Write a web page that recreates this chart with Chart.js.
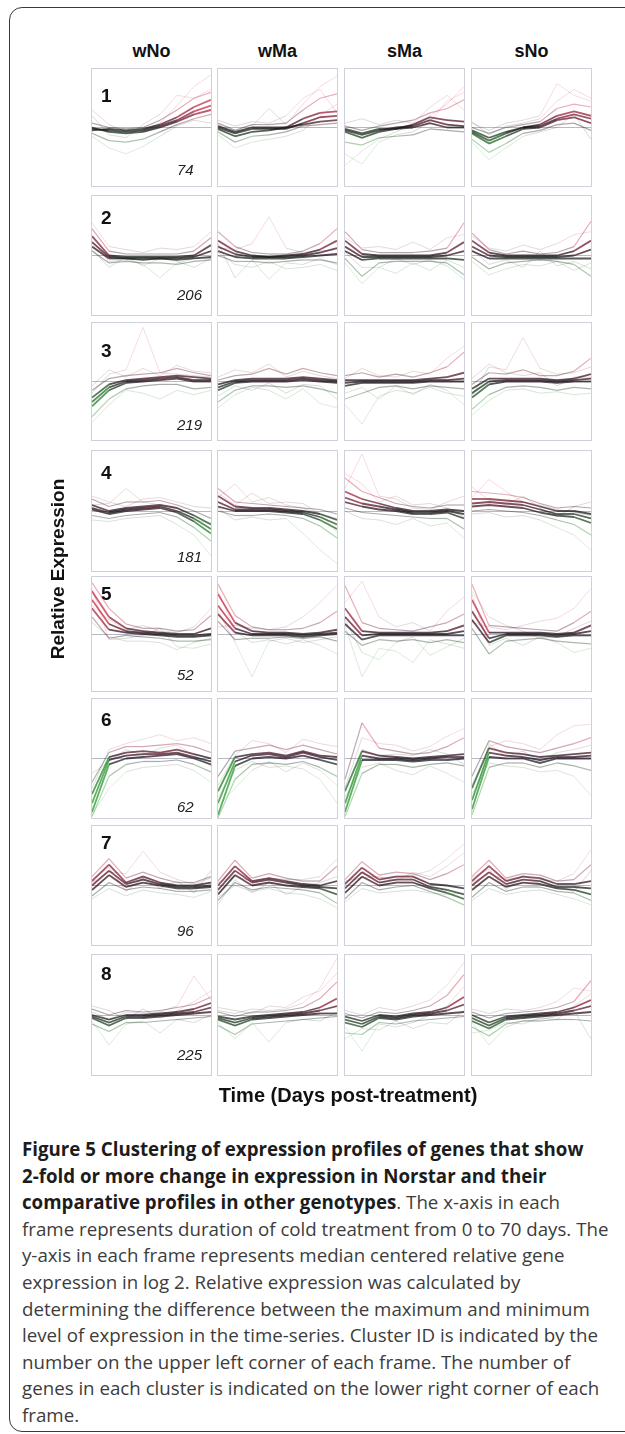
<!DOCTYPE html>
<html><head><meta charset="utf-8">
<script src="https://cdn.jsdelivr.net/npm/chart.js@4.4.1/dist/chart.umd.min.js"></script>
<style>
html,body{margin:0;padding:0;background:#fff;}
body{width:625px;height:1434px;position:relative;overflow:hidden;font-family:"Liberation Sans",Arial,sans-serif;}
.frame{position:absolute;left:9px;top:7px;width:720px;height:1425px;border:1.5px solid #3a3a3a;border-radius:13px;box-sizing:border-box;}
.panel{position:absolute;border:1px solid #d0d0dc;box-sizing:border-box;background:#fff;}
.panel canvas{position:absolute;left:0;top:0;}
.hdr{position:absolute;font-weight:bold;font-size:18px;line-height:18px;color:#111;white-space:nowrap;transform:translateX(-50%);}
.cid{position:absolute;font-weight:bold;font-size:19px;line-height:19px;color:#111;}
.cnt{position:absolute;font-style:italic;font-size:15px;line-height:15px;color:#222;}
.ylab{position:absolute;font-weight:bold;font-size:19px;line-height:19px;color:#111;white-space:nowrap;transform:translate(-50%,-50%) rotate(-90deg);}
.xlab{position:absolute;font-weight:bold;font-size:20px;line-height:20px;color:#111;white-space:nowrap;transform:translateX(-50%);}
.cap{position:absolute;left:22px;font-family:"Open Sans","Noto Sans",sans-serif;font-size:16px;color:#3c3c3c;white-space:nowrap;}
.cap b{color:#1c1c1c;font-weight:bold;}
.cap div{height:26.6px;line-height:26.6px;}
</style></head>
<body>
<div class="frame"></div>
<div id="root"></div>
<script>
// ---- data ----
const days = ['0','2','14','21','35','42','56','70'];
const genotypes = ['wNo','wMa','sMa','sNo'];
const clusterIds = ['1','2','3','4','5','6','7','8'];
const geneCounts = ['74','206','219','181','52','62','96','225'];

// each panel: 3 core profiles, 2 spread profiles, 3 outlier profiles (log2 relative expression)
const cluster1 = [
 [[-0.1,-0.2,-0.3,-0.2,0.1,0.5,1.1,1.5],[0,-0.3,-0.4,-0.3,0,0.4,0.9,1.2],[-0.2,-0.1,-0.2,-0.1,0.2,0.7,1.4,1.9],
  [0.3,0,-0.1,0,0.5,1.2,2.0,2.4],[-0.4,-0.9,-1.0,-0.8,-0.3,0.2,0.6,0.9],
  [1.2,0.2,-0.3,-0.2,0.3,1.5,2.8,3.6],[-0.6,-1.4,-1.8,-1.3,-0.6,0.1,0.5,0.3],[0.8,-0.5,-0.7,0.2,0.9,2.2,2.0,2.6]],
 [[0,-0.4,-0.1,-0.1,-0.1,0.3,0.7,0.8],[-0.1,-0.6,-0.3,-0.2,0,0.6,1.0,1.1],[0.1,-0.3,0,0,0,0.2,0.4,0.5],
  [0.3,-0.2,0.2,0.2,0.3,1.2,2.0,2.3],[-0.3,-1.0,-0.6,-0.5,-0.3,0.1,0.2,0.3],
  [0.2,-0.4,0.1,1.3,0.2,1.6,2.8,3.5],[-0.5,-1.4,-1.0,-0.8,-0.6,-0.2,0.8,1.6],[0.5,0.1,0.4,0.3,0.8,2.0,2.6,1.0]],
 [[-0.2,-0.5,-0.2,0,0.1,0.5,0.2,0.1],[-0.1,-0.4,-0.1,-0.1,0,0.3,0,0],[-0.3,-0.7,-0.3,-0.1,0.2,0.7,0.5,0.4],
  [0.1,-0.2,0.1,0.3,0.5,1.0,1.3,1.9],[-1.0,-1.2,-0.7,-0.6,-0.5,-0.1,-0.2,-0.3],
  [-2.6,-1.6,-0.8,-0.3,0.2,0.8,1.6,2.8],[-1.8,-2.5,-1.0,-0.5,-0.3,0.4,1.8,2.4],[0.3,0.6,0.2,0.5,0.3,1.4,2.2,1.2]],
 [[-0.3,-0.9,-0.4,0,0.1,0.6,0.9,0.6],[-0.2,-0.7,-0.3,0,0.2,0.8,1.1,0.8],[-0.4,-1.1,-0.6,-0.1,0,0.5,0.7,0.3],
  [0,-0.4,0,0.2,0.4,1.3,1.6,1.4],[-0.8,-1.7,-1.1,-0.4,-0.2,0.2,0.3,-0.2],
  [0.3,-0.2,0.3,0.5,0.8,3.0,2.2,1.8],[-1.0,-2.2,-1.4,-0.6,-0.3,0,0.9,-0.8],[0.4,-0.5,0.1,0.3,0.6,1.8,2.6,2.0]]
];
const cluster2 = [
 [[0.9,-0.1,-0.2,-0.2,-0.2,-0.2,-0.1,0.3],[0.6,-0.2,-0.2,-0.3,-0.2,-0.3,-0.2,-0.1],[1.3,0,-0.1,-0.1,-0.1,-0.1,0,0.7],
  [1.8,0.3,0.1,0.1,0.1,0.1,0.3,1.2],[0.3,-0.5,-0.4,-0.5,-0.5,-0.6,-0.4,-0.3],
  [1.0,-0.4,-0.3,-0.6,-1.5,-0.5,-0.2,-0.2],[2.2,0.6,0.4,0.2,0.5,0.4,0.6,1.6],[0.4,-0.8,-0.1,-0.7,-0.2,-0.4,-0.8,-0.2]],
 [[0.6,0.1,-0.1,-0.1,-0.1,0,0.2,0.5],[0.3,-0.1,-0.2,-0.2,-0.2,-0.1,0,0.1],[1.0,0.3,0,-0.1,0,0.1,0.4,1.0],
  [1.6,0.6,0.2,0.1,0.1,0.3,0.8,1.8],[0,-0.4,-0.4,-0.5,-0.4,-0.3,-0.3,-0.5],
  [0.8,-1.5,-0.3,-1.6,-0.5,-0.6,-0.2,-0.6],[0.5,0.4,0.8,2.6,0.5,0.2,0.3,0.4],[0.2,-0.6,-0.8,-0.4,-0.9,-0.8,-0.6,-1.0]],
 [[0.6,-0.1,-0.1,-0.1,-0.1,-0.1,0,0.3],[0.3,-0.3,-0.2,-0.2,-0.2,-0.2,-0.2,-0.3],[1.0,0.1,0,0,0,0,0.2,0.9],
  [1.6,0.4,0.2,0.2,0.2,0.3,0.5,2.2],[-0.2,-1.4,-0.5,-0.4,-0.4,-0.4,-0.5,-1.3],
  [0.2,-0.8,-0.8,-1.2,-0.5,-1.0,-0.3,-0.8],[1.2,0.5,0.6,0.4,0.9,0.4,1.2,1.4],[-0.5,-1.9,-0.8,-0.2,-0.6,-0.3,-0.7,-1.6]],
 [[0.6,0,-0.1,-0.1,-0.1,-0.1,0,0.4],[0.3,-0.2,-0.2,-0.2,-0.2,-0.2,-0.2,-0.2],[1.0,0.2,0,0,0,0,0.3,1.0],
  [1.5,0.4,0.1,0.3,0.1,0.2,0.6,2.3],[-0.1,-0.9,-0.5,-0.4,-0.3,-0.4,-0.6,-1.4],
  [0.4,-0.6,-0.3,-0.8,0.3,-0.7,-0.4,-0.9],[1.3,0.5,0.3,0.7,0.4,0.8,1.4,1.6],[-0.4,-1.3,-0.9,-0.6,-0.7,-0.4,-1.0,-0.5]]
];
const cluster3 = [
 [[-1.4,-0.4,0,0.1,0.2,0.3,0.1,0.1],[-1.7,-0.6,-0.1,0,0.1,0.2,0,0],[-1.1,-0.2,0.1,0.2,0.3,0.4,0.3,0.2],
  [-0.6,0.2,0.4,0.5,0.6,0.9,0.6,0.4],[-2.4,-1.2,-0.5,-0.3,-0.2,-0.2,-0.5,-0.4],
  [-0.8,0.5,0.8,3.7,0.6,0.5,0.4,0.3],[-2.8,-1.6,-0.6,-0.8,-1.2,-0.6,-0.9,-0.6],[-0.3,0.8,0.3,0.9,0.4,1.1,0.7,0.6]],
 [[-0.4,0,0.1,0.1,0.1,0.2,0.1,0],[-0.6,-0.1,0,0,0,0.1,0,-0.1],[-0.2,0.1,0.2,0.2,0.2,0.3,0.2,0.1],
  [0.1,0.4,0.5,0.9,0.5,0.9,0.6,0.4],[-1.4,-0.6,-0.3,-0.3,-0.4,-0.3,-0.5,-0.8],
  [-1.8,-0.9,-0.4,-0.6,-1.2,-0.5,-1.5,-1.8],[0.3,0.8,0.6,1.2,0.3,0.7,0.4,0.2],[-1.0,-0.3,-0.6,-0.1,-0.8,-0.2,-0.3,-1.2]],
 [[-0.1,0,0,0,0,0.1,0.1,0.2],[-0.3,-0.1,-0.1,-0.1,-0.1,0,0,0],[0.1,0.1,0.1,0.1,0.1,0.2,0.3,0.6],
  [0.4,0.6,0.3,0.5,0.3,0.6,1.0,2.0],[-1.2,-0.8,-0.4,-0.3,-0.5,-0.3,-0.4,-0.5],
  [-1.6,-2.9,-1.0,-0.6,-0.8,-0.4,-0.8,-1.0],[0.2,0.9,0.4,0.3,0.7,0.5,1.6,2.4],[-0.8,-0.4,-1.2,-0.3,-0.9,-0.2,-0.6,-1.6]],
 [[-0.8,0,0.1,0.1,0.1,0,0.1,0.2],[-1.1,-0.2,0,0,0,-0.1,0,0],[-0.5,0.2,0.2,0.2,0.2,0.1,0.2,0.5],
  [-0.2,0.6,0.5,0.8,0.4,0.4,0.7,1.6],[-1.9,-0.9,-0.4,-0.3,-0.4,-0.6,-0.4,-0.5],
  [-1.0,1.0,0.8,3.0,0.9,0.5,0.6,1.0],[-2.3,-1.3,-0.6,-0.5,-0.8,-0.7,-0.9,-0.8],[0.2,1.2,0.6,0.4,0.6,-0.3,0.3,0.3]]
];
const cluster4 = [
 [[0.2,-0.1,0.1,0.2,0.3,0,-0.5,-1.2],[0.1,-0.2,0,0.1,0.2,-0.1,-0.7,-1.5],[0.4,0,0.2,0.3,0.4,0.2,-0.3,-0.9],
  [0.8,0.3,0.6,0.6,0.7,0.4,0,-0.5],[-0.3,-0.5,-0.3,-0.2,-0.1,-0.4,-1.1,-2.0],
  [0.4,0.5,1.5,0.6,0.4,0.2,-0.6,-0.8],[-0.6,-0.7,-0.5,-0.4,-0.3,-0.9,-1.6,-3.0],[1.0,0.6,0.3,0.8,0.9,0.6,0.3,0.2]],
 [[0.6,0.1,0.1,0.1,0,-0.1,-0.4,-0.9],[0.3,0,0,0,-0.1,-0.2,-0.6,-1.2],[1.0,0.3,0.2,0.2,0.1,0,-0.2,-0.6],
  [1.5,0.6,0.5,0.4,0.3,0.2,0.1,-0.2],[0,-0.3,-0.3,-0.2,-0.3,-0.5,-1.0,-1.8],
  [0.9,1.8,0.6,0.9,0.4,0.2,-0.2,-0.5],[0.2,-0.6,-0.4,-0.6,-0.5,-1.5,-2.6,-3.5],[1.2,0.4,1.2,0.5,0.6,0.5,-0.2,-1.4]],
 [[0.9,0.5,0.3,0.1,-0.1,-0.1,0,-0.2],[0.6,0.3,0.1,0,-0.2,-0.2,-0.1,-0.5],[1.3,0.8,0.5,0.2,0,0,0.1,0],
  [2.2,1.3,0.9,0.5,0.3,0.2,0.4,0.4],[0.2,-0.1,-0.2,-0.3,-0.4,-0.5,-0.5,-1.2],
  [1.5,3.8,1.0,0.8,0.2,0.1,0.6,1.0],[0,-0.5,-0.6,-0.9,-0.5,-1.0,-0.8,-1.8],[2.5,1.8,0.6,1.0,0.4,0.5,0.2,-0.4]],
 [[0.5,0.6,0.5,0.4,0.1,-0.2,-0.2,-0.5],[0.3,0.4,0.3,0.2,-0.1,-0.3,-0.4,-0.8],[0.8,0.8,0.7,0.6,0.3,0,0,-0.2],
  [1.3,1.2,1.1,0.9,0.5,0.2,0.3,0.2],[0,0.1,0,-0.1,-0.3,-0.6,-0.9,-1.6],
  [0.9,2.1,1.3,0.6,0.4,0.1,-0.1,-0.3],[-0.2,-0.1,-0.4,-0.3,-0.6,-1.1,-1.6,-2.6],[1.6,0.7,0.4,1.0,0.2,-0.4,0.3,0.6]]
];
const cluster5 = [
 [[2.4,0.7,0.2,0.1,0,-0.1,-0.1,0],[1.8,0.3,0.1,0,-0.1,-0.2,-0.2,-0.1],[3.0,1.2,0.4,0.2,0.1,0,0,0.4],
  [3.6,1.8,0.7,0.4,0.4,0.2,0.3,1.3],[1.2,-0.3,-0.1,-0.2,-0.3,-0.5,-0.5,-0.4],
  [3.2,-0.4,-0.3,-0.1,0.4,-0.9,-1.0,-0.7],[2.0,1.0,0.3,0.6,0.2,0.1,0.5,1.8],[0.8,-0.2,-0.5,-0.5,-0.6,-1.1,-0.6,-0.3]],
 [[2.0,0.4,0,0,0,-0.1,0,0.1],[1.4,0.1,-0.1,-0.1,-0.1,-0.2,-0.1,0],[2.8,0.8,0.2,0.1,0.1,0,0.1,0.3],
  [3.5,1.3,0.5,0.3,0.3,0.4,0.8,1.6],[0.9,-0.4,-0.3,-0.3,-0.2,-0.3,-0.2,-0.5],
  [1.6,-0.6,-3.0,-0.5,-0.3,-0.6,-0.4,-0.2],[0.5,0.6,0.4,0.3,0.5,1.2,2.2,3.4],[3.0,0.2,-0.6,-0.4,-0.7,-0.4,-0.8,-1.4]],
 [[1.2,-0.1,0,0,0,0,0,0.2],[0.7,-0.4,-0.1,-0.1,-0.1,-0.1,-0.1,-0.1],[1.8,0.2,0.1,0.1,0.1,0.1,0.2,0.6],
  [3.4,0.8,0.4,0.3,0.2,0.5,0.8,1.4],[0.2,-0.8,-0.4,-0.5,-0.4,-0.6,-0.4,-0.6],
  [0.6,-3.0,-1.0,-1.2,-2.0,-0.4,-0.7,-1.0],[2.2,3.7,1.2,0.5,0.8,0.2,1.6,2.6],[1.0,-1.3,-1.8,-0.6,-0.2,-1.5,-0.9,-0.3]],
 [[1.6,-0.3,0,0,0,-0.1,0,0.2],[1.0,-0.6,-0.1,-0.1,-0.1,-0.2,-0.1,-0.1],[2.4,0.1,0.1,0.1,0.1,0,0.1,0.6],
  [3.5,0.6,0.5,0.4,0.3,0.2,0.8,1.6],[0.4,-1.4,-0.5,-0.4,-0.3,-0.5,-0.6,-0.7],
  [2.8,-0.8,-0.3,-0.8,-0.2,-0.6,-1.3,-1.0],[0.8,0.5,0.3,0.6,0.9,1.1,1.8,3.2],[3.0,1.2,0.6,0.2,-0.3,-0.2,0.4,0.9]]
];
const cluster6 = [
 [[-3.0,-0.1,0.2,0.3,0.3,0.4,0.1,-0.2],[-3.6,-0.4,0,0.1,0.2,0.3,0,-0.4],[-2.4,0.1,0.4,0.5,0.4,0.6,0.3,0],
  [-1.6,0.4,0.8,0.8,0.9,1.0,0.8,0.4],[-3.9,-1.2,-0.4,-0.2,-0.2,-0.1,-0.4,-0.9],
  [-2.0,0.6,1.0,1.3,1.6,1.2,1.4,1.0],[-3.8,-2.0,-0.9,-0.6,-0.5,-0.4,-0.8,-1.6],[-1.0,-0.2,0.6,0.2,0.7,0.9,0.2,-0.5]],
 [[-3.0,-0.2,0.2,0.3,0.1,0.4,0.1,-0.1],[-3.8,-0.5,0,0.1,0,0.2,-0.1,-0.4],[-2.2,0.1,0.3,0.4,0.2,0.5,0.2,0.1],
  [-1.2,0.5,0.7,0.9,0.6,0.9,0.6,0.3],[-4.0,-1.4,-0.4,-0.3,-0.4,-0.2,-0.6,-1.2],
  [-1.8,0.2,1.2,1.0,0.4,1.3,1.0,0.8],[-2.6,-0.8,-0.2,-0.6,-0.5,-0.7,-1.4,-3.0],[-3.2,-2.0,-0.8,-0.2,-0.9,-0.3,-0.8,-1.8]],
 [[-3.0,0.2,0,0,-0.1,0,0.1,0.1],[-3.6,-0.1,-0.1,-0.1,-0.2,-0.1,-0.1,0],[-2.2,0.5,0.2,0.1,0,0.1,0.2,0.3],
  [-1.4,2.4,0.7,0.5,0.3,0.4,0.8,1.4],[-3.9,-1.0,-0.4,-0.4,-0.6,-0.4,-0.3,-0.5],
  [-2.0,1.4,1.0,0.9,0.5,0.8,1.5,2.0],[-2.6,-0.6,-0.3,-0.8,-1.1,-0.5,-1.0,-1.6],[-3.4,0.6,0.2,0.3,0.2,0.6,0.3,-0.4]],
 [[-2.8,0.4,0.2,0.1,-0.1,0.1,0.1,0.2],[-3.4,0.1,0,0,-0.3,0,0,0],[-2.0,0.7,0.4,0.3,0.1,0.2,0.3,0.4],
  [-1.2,1.2,0.8,0.6,0.4,0.7,1.0,1.4],[-3.8,-0.6,-0.3,-0.3,-0.6,-0.3,-0.5,-0.8],
  [-1.8,0.8,1.2,1.0,0.6,1.6,2.2,2.3],[-2.4,-0.3,-0.5,-0.6,-0.9,-0.8,-1.2,-2.5],[-3.6,1.0,0.1,0.5,-0.2,0.4,0.6,0.9]]
];
const cluster7 = [
 [[0,1.0,0.1,0.4,0.1,-0.1,-0.1,0],[-0.3,0.7,-0.1,0.2,0,-0.2,-0.2,-0.1],[0.3,1.4,0.2,0.6,0.2,0,0,0.2],
  [0.6,1.8,0.5,0.9,0.5,0.2,0.2,0.6],[-0.7,0.2,-0.3,-0.1,-0.2,-0.4,-0.4,-0.3],
  [0.2,0.9,0.8,2.3,0.9,0.4,0.1,0.5],[-0.9,-0.2,-0.7,-0.3,-0.5,-0.6,-0.8,-0.4],[0.4,1.2,-0.4,0.5,-0.2,0.3,-0.5,1.0]],
 [[-0.3,1.0,0.2,0.4,0.2,0,-0.1,-0.2],[-0.6,0.7,0,0.2,0,-0.1,-0.2,-0.6],[0,1.3,0.3,0.5,0.3,0.1,0,0.3],
  [0.3,1.7,0.5,0.8,0.5,0.3,0.3,1.3],[-1.0,0.2,-0.3,-0.1,-0.2,-0.3,-0.5,-1.2],
  [0.2,0.6,0.3,0.5,0.4,0.4,0.6,1.8],[-0.8,0,-0.4,-0.2,-0.5,-0.6,-0.9,-1.5],[-1.3,0.4,-0.5,0.2,-0.6,-0.1,0.2,0.6]],
 [[-0.2,0.9,0.2,0.4,0.4,-0.1,-0.3,-0.6],[-0.5,0.6,0,0.2,0.2,-0.2,-0.5,-0.9],[0.1,1.2,0.4,0.6,0.6,0.1,0,-0.2],
  [0.4,1.6,0.7,0.9,0.8,0.4,0.8,1.4],[-0.9,0.2,-0.3,-0.1,0,-0.4,-0.8,-1.3],
  [0.2,0.8,0.5,0.6,0.7,1.0,1.8,2.8],[-1.1,-0.2,-0.5,-0.4,-0.3,-0.5,-0.6,-0.5],[0.3,0.5,0.6,0.3,0.9,0.6,1.3,2.2]],
 [[0,0.9,0.1,0.4,0.3,-0.1,-0.1,-0.2],[-0.3,0.6,-0.1,0.2,0.1,-0.2,-0.3,-0.6],[0.3,1.3,0.3,0.6,0.5,0.1,0.1,0.3],
  [0.6,1.7,0.5,0.8,0.7,0.3,0.4,1.4],[-0.8,0.2,-0.4,-0.1,-0.1,-0.4,-0.5,-1.0],
  [0.2,0.8,0.4,0.6,0.4,0.3,0.8,2.4],[-1.0,-0.2,-0.6,-0.4,-0.3,-0.6,-0.9,-1.3],[0.5,1.1,-0.3,0.7,0.1,0,-0.4,1.0]]
];
const cluster8 = [
 [[-0.1,-0.5,-0.1,-0.1,0,0.1,0.2,0.5],[-0.2,-0.7,-0.2,-0.2,-0.1,0,0.1,0.2],[0,-0.3,0,0,0.1,0.2,0.4,0.8],
  [0.4,0,0.3,0.2,0.3,0.5,0.7,1.2],[-0.6,-1.1,-0.5,-0.5,-0.4,-0.3,-0.2,-0.1],
  [0.2,-0.3,0.2,0.1,0.2,0.6,2.6,1.0],[-0.4,-2.0,-0.6,-0.4,-1.2,-0.3,-0.5,0],[0.6,0.3,-0.3,0.4,-0.2,0.3,0.9,1.6]],
 [[-0.2,-0.5,-0.2,-0.1,0,0.1,0.3,0.6],[-0.3,-0.7,-0.3,-0.2,-0.1,0,0.1,0.1],[-0.1,-0.3,-0.1,0,0.1,0.2,0.5,1.1],
  [0.2,-0.1,0.2,0.2,0.3,0.5,1.1,2.2],[-0.7,-1.3,-0.6,-0.5,-0.4,-0.3,-0.2,-0.1],
  [0.3,0.1,0.4,0.3,0.4,0.8,1.8,3.8],[-0.5,-1.6,-0.5,-1.8,-0.5,-0.3,-0.4,0.2],[0.5,0.3,0.1,0.6,0.5,1.2,1.6,2.8]],
 [[-0.3,-0.6,-0.1,-0.2,0,0.1,0.3,0.7],[-0.5,-0.8,-0.2,-0.3,-0.1,0,0.1,0.2],[-0.1,-0.4,0,-0.1,0.1,0.2,0.5,1.2],
  [0.1,-0.2,0.2,0.1,0.3,0.6,1.3,2.7],[-1.2,-1.3,-0.5,-0.6,-0.4,-0.3,-0.2,-0.1],
  [-0.8,-2.4,-0.6,-0.8,-0.5,0,0.6,1.9],[0.3,0,0.5,0.3,0.6,1.0,2.0,3.5],[-1.6,-0.9,-1.0,-0.4,-0.9,-0.5,-0.6,0.3]],
 [[-0.2,-0.7,-0.2,-0.1,0,0.1,0.3,0.6],[-0.4,-0.9,-0.3,-0.2,-0.1,0,0.1,0.2],[0,-0.5,-0.1,0,0.1,0.2,0.5,1.0],
  [0.2,-0.2,0.1,0.2,0.3,0.5,0.9,2.3],[-0.8,-1.4,-0.6,-0.4,-0.4,-0.3,-0.3,-0.4],
  [-0.5,-2.0,-0.8,-0.4,-0.3,-0.1,0.3,-1.6],[0.4,0.1,0.4,0.3,0.5,0.9,1.8,1.6],[-1.2,-1.0,-0.5,-0.6,-0.2,-0.3,0.6,1.4]]
];
const clusters = [cluster1,cluster2,cluster3,cluster4,cluster5,cluster6,cluster7,cluster8];

const captionBold = ['Figure 5 Clustering of expression profiles of genes that show','2-fold or more change in expression in Norstar and their','comparative profiles in other genotypes'];
const captionLines = ['. The x-axis in each','frame represents duration of cold treatment from 0 to 70 days. The','y-axis in each frame represents median centered relative gene','expression in log 2. Relative expression was calculated by','determining the difference between the maximum and minimum','level of expression in the time-series. Cluster ID is indicated by the','number on the upper left corner of each frame. The number of','genes in each cluster is indicated on the lower right corner of each','frame.'];

// ---- layout ----
const colX = [91,217,344,471], colW = 121;
const rowY = [68,195,322,450,576,698,825,954];
const rowH = [119,121,119,122,116,121,121,122];
const idTop = [88,210,343,465,586,712,835,966];
const cntBase = [175,300,430,562,680,812,936,1060];

const root = document.getElementById('root');
function el(cls, txt, style){const d=document.createElement('div');d.className=cls;if(txt!==null)d.textContent=txt;Object.assign(d.style,style);root.appendChild(d);return d;}

function segColor(v,a){
  const t=Math.min(1,Math.abs(v)/1.3);
  let r,g,b;
  if(v>=0){r=25+175*t;g=15+25*t;b=25+45*t;}
  else{r=25+15*t;g=15+135*t;b=25+20*t;}
  return 'rgba('+(r|0)+','+(g|0)+','+(b|0)+','+a+')';
}
const roleAlpha=[0.75,0.75,0.75,0.38,0.38,0.17,0.17,0.17];
const roleWidth=[1.8,1.8,1.8,1.2,1.2,1,1,1];

genotypes.forEach((g,c)=>{ el('hdr',g,{left:(colX[c]+colW/2)+'px',top:(57-15.2)+'px'}); });

clusters.forEach((cl,r)=>{
  cl.forEach((lines,c)=>{
    const p=el('panel',null,{left:colX[c]+'px',top:rowY[r]+'px',width:colW+'px',height:rowH[r]+'px'});
    const cv=document.createElement('canvas');
    cv.width=colW-2;cv.height=rowH[r]-2;
    cv.style.width=(colW-2)+'px';cv.style.height=(rowH[r]-2)+'px';
    p.appendChild(cv);
    new Chart(cv,{
      type:'line',
      data:{labels:days,datasets:lines.map((vals,i)=>({
        data:vals,borderWidth:roleWidth[i],pointRadius:0,tension:0,fill:false,
        borderColor:segColor(0,roleAlpha[i]),
        segment:{borderColor:ctx=>segColor((ctx.p0.parsed.y+ctx.p1.parsed.y)/2,roleAlpha[i])}
      }))},
      options:{responsive:false,animation:false,devicePixelRatio:1,events:[],
        layout:{padding:0},
        plugins:{legend:{display:false},tooltip:{enabled:false}},
        scales:{
          x:{display:false,offset:false},
          y:{min:-4,max:4,display:true,afterFit(s){s.width=0;},
             ticks:{display:false,stepSize:4},border:{display:false},
             grid:{drawTicks:false,lineWidth:1,color:ctx=>ctx.tick.value===0?'#b8b8c8':'rgba(0,0,0,0)'}}
        }
      }
    });
  });
  el('cid',clusterIds[r],{left:'101px',top:(idTop[r]-2.5)+'px'});
  el('cnt',geneCounts[r],{left:'177px',top:(cntBase[r]-12.7)+'px'});
});

el('ylab','Relative Expression',{left:'57px',top:'569px'});
el('xlab','Time (Days post-treatment)',{left:'348px',top:(1102-16.9)+'px'});

// caption
const cap=el('cap',null,{top:'1136px'});
const all=[];
all.push('<b>'+captionBold[0]+'</b>');
all.push('<b>'+captionBold[1]+'</b>');
all.push('<b>'+captionBold[2]+'</b>'+captionLines[0]);
for(let i=1;i<captionLines.length;i++) all.push(captionLines[i]);
cap.innerHTML=all.map(h=>'<div><span>'+h+'</span></div>').join('');
// fit caption font so the longest regular line spans the same width as in the figure
const probe=cap.children[3].firstChild;
const w=probe.getBoundingClientRect().width;
cap.style.fontSize=(16*587/w).toFixed(2)+'px';
</script>
</body></html>
